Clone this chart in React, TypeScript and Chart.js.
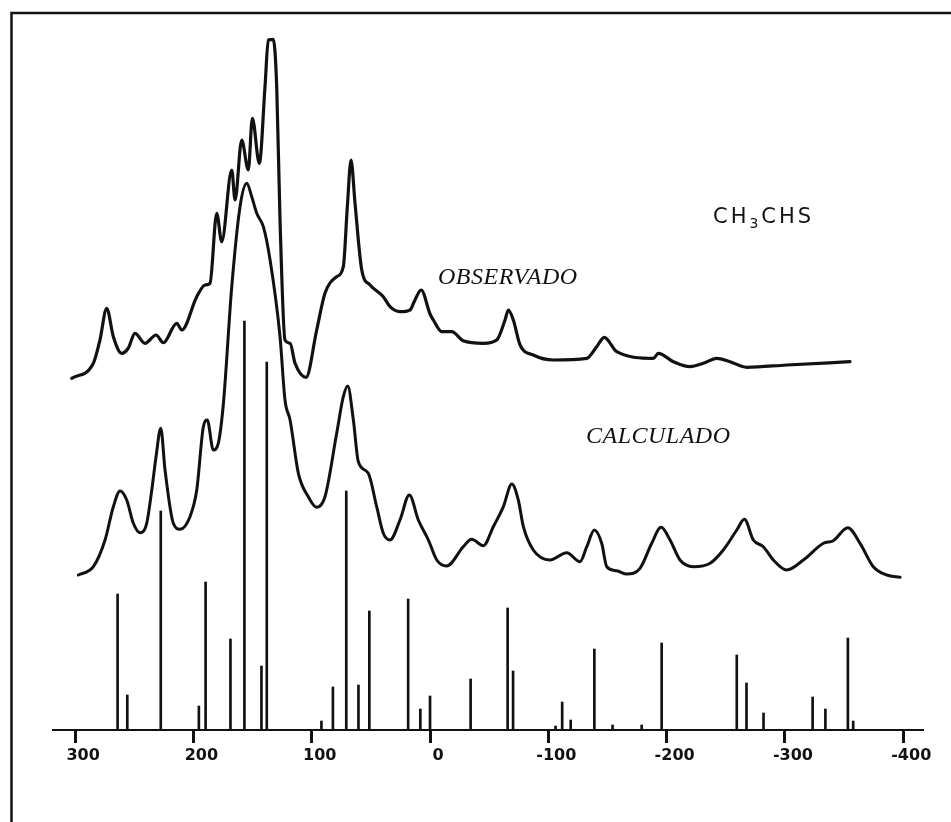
import React, { useEffect, useRef } from "react";
import { Chart, registerables } from "chart.js";

Chart.register(...registerables);

// Axis (reversed, high values on the left)
const xMin = -416.7;
const xMax = 318.7;
const yMax = 700;
const xTickValues = [300, 200, 100, 0, -100, -200, -300, -400];
const xTickLabels = ["300", "200", "100", "0", "-100", "-200", "-300", "-400"];

// OBSERVADO curve
const obsX = [302.9, 284.6, 279.0, 273.3, 267.7, 260.6, 255.0, 249.4, 240.9, 231.6, 225.4, 214.1, 209.9, 197.2, 190.2, 186.0, 180.3, 176.1, 167.6, 164.8, 159.2, 153.6, 150.2, 144.3, 139.5, 136.7, 132.5, 129.6, 126.8, 122.6, 118.3, 114.1, 104.8, 95.8, 88.8, 78.9, 73.3, 69.9, 66.8, 63.4, 57.7, 50.7, 39.5, 33.8, 25.4, 16.9, 13.5, 7.5, 0.0, -2.8, -9.9, -18.3, -28.1, -45.1, -56.4, -63.4, -66.2, -70.4, -76.1, -87.3, -104.2, -132.5, -140.9, -147.3, -157.8, -188.8, -193.0, -205.7, -219.8, -231.0, -242.3, -253.6, -267.7, -301.5, -355.0];
const obsY = [351.7, 366.7, 390, 421.7, 393.3, 376.7, 382, 396.7, 386.7, 395, 387.3, 406.7, 400, 433.3, 445, 446.7, 516.7, 488.3, 560, 530, 590, 560, 611.7, 566.7, 643.3, 690, 690.7, 643.3, 510, 390, 386.7, 366.7, 352.7, 400, 436.7, 453.3, 463.3, 523.3, 570, 526.7, 460, 445, 433.3, 423.3, 418.3, 420, 428, 440, 416, 410, 398.3, 398.3, 389.3, 386.7, 390, 410, 420, 410, 385, 375, 370, 371.7, 383.3, 392.7, 378.3, 371.7, 376.7, 368.3, 363.3, 366.7, 371.7, 368.3, 362.7, 365, 368.3];

// CALCULADO curve
const calcX = [297.3, 284.6, 274.7, 267.7, 262.0, 256.4, 250.8, 245.1, 239.5, 235.2, 231.6, 227.6, 224.0, 217.0, 211.3, 202.9, 197.2, 191.6, 188.3, 183.2, 179.0, 174.7, 167.6, 160.6, 154.9, 150.7, 146.5, 140.9, 135.2, 126.8, 122.6, 118.3, 111.3, 102.9, 95.8, 88.8, 78.9, 73.3, 69.6, 64.8, 60.6, 52.2, 45.1, 39.5, 33.8, 25.4, 17.5, 9.9, 1.4, -5.7, -14.1, -28.1, -35.2, -45.1, -53.5, -62.0, -69.1, -74.6, -78.9, -87.3, -101.4, -115.6, -126.8, -132.5, -138.9, -145.1, -149.4, -157.8, -166.3, -177.5, -187.4, -195.3, -202.9, -211.3, -222.6, -236.7, -247.9, -259.3, -265.7, -273.3, -281.7, -290.2, -301.5, -315.6, -332.5, -340.9, -353.1, -363.5, -374.7, -386.1, -397.3];
const calcY = [155, 163.3, 190, 223.3, 239, 230, 206.7, 197.3, 206.7, 240, 273.3, 301.7, 260, 206.7, 200.7, 213.3, 240, 303.3, 310, 280, 286.7, 326, 443.3, 523.3, 546.7, 533.3, 516.7, 503.3, 470, 393.3, 330, 310, 256.7, 233.3, 222.7, 233.3, 296.7, 333.3, 344, 310, 268.3, 256.7, 223.3, 196.7, 190, 210, 235, 210, 190, 170, 164, 183.3, 190.7, 184.3, 203.3, 223.3, 246, 230, 203.3, 180, 170, 177.3, 168.3, 183.3, 200, 186.7, 163.3, 159.3, 156, 161.7, 186.7, 202.7, 190, 170, 163.3, 166.7, 180, 200, 210.7, 190, 183.3, 170, 160, 170, 186.7, 189.3, 202.3, 186.7, 163.3, 155, 152.7];

// Calculated line positions (sticks)
const stickX = [264.1, 255.9, 227.6, 195.4, 189.7, 168.7, 156.9, 142.5, 138.0, 91.8, 82.1, 70.8, 60.5, 51.3, 18.5, 8.2, 0.0, -34.3, -65.6, -70.2, -106.1, -111.7, -118.9, -138.9, -154.3, -178.9, -195.8, -259.3, -267.5, -281.9, -323.4, -334.2, -353.2, -357.7];
const stickY = [136, 35, 219, 24, 148, 91, 409, 64, 368, 9, 43, 239, 45, 119, 131, 21, 34, 51, 122, 59, 4, 28, 10, 81, 5, 5, 87, 75, 47, 17, 33, 21, 92, 9];

const toPoints = (xs: number[], ys: number[]) => xs.map((x, i) => ({ x, y: ys[i] }));

const annotations = {
  id: "annotations",
  afterDraw(chart: any) {
    const ctx = chart.ctx as CanvasRenderingContext2D;
    ctx.save();
    // frame (top and left)
    ctx.strokeStyle = "#111";
    ctx.lineWidth = 2.5;
    ctx.beginPath();
    ctx.moveTo(11.5, 822);
    ctx.lineTo(11.5, 13);
    ctx.lineTo(951, 13);
    ctx.stroke();

    ctx.fillStyle = "#111";
    ctx.textBaseline = "alphabetic";
    ctx.textAlign = "left";
    ctx.font = 'italic 24px "Liberation Serif"';
    (ctx as any).letterSpacing = "0.5px";
    ctx.fillText("OBSERVADO", 438, 284);
    ctx.fillText("CALCULADO", 586, 443);

    (ctx as any).letterSpacing = "3px";
    ctx.font = '21px "DejaVu Sans"';
    let x = 713;
    const base = 223;
    ctx.fillText("CH", x, base);
    x += ctx.measureText("CH").width;
    ctx.font = '14px "DejaVu Sans"';
    ctx.fillText("3", x, base + 5);
    x += ctx.measureText("3").width;
    ctx.font = '21px "DejaVu Sans"';
    ctx.fillText("CHS", x, base);
    ctx.restore();
  },
};

export default function App() {
  const ref = useRef<HTMLCanvasElement | null>(null);

  useEffect(() => {
    if (!ref.current) return;
    const chart = new Chart(ref.current, {
      type: "line",
      data: {
        datasets: [
          {
            label: "OBSERVADO",
            data: toPoints(obsX, obsY),
            borderColor: "#111",
            borderWidth: 3.2,
            pointRadius: 0,
            fill: false,
            cubicInterpolationMode: "monotone",
            borderJoinStyle: "round",
            borderCapStyle: "round",
          } as any,
          {
            label: "CALCULADO",
            data: toPoints(calcX, calcY),
            borderColor: "#111",
            borderWidth: 3,
            pointRadius: 0,
            fill: false,
            cubicInterpolationMode: "monotone",
            borderJoinStyle: "round",
            borderCapStyle: "round",
          } as any,
          {
            type: "bar",
            label: "líneas",
            data: toPoints(stickX, stickY),
            backgroundColor: "#111",
            borderWidth: 0,
            barThickness: 2,
          } as any,
        ],
      },
      options: {
        responsive: false,
        animation: false,
        parsing: true,
        layout: { padding: { left: 53, right: 28, top: 30, bottom: 32 } },
        plugins: { legend: { display: false }, tooltip: { enabled: false } },
        scales: {
          x: {
            type: "linear",
            reverse: true,
            min: xMin,
            max: xMax,
            offset: false,
            afterFit: (scale: any) => {
              scale.height = 60;
            },
            afterBuildTicks: (scale: any) => {
              scale.ticks = xTickValues.map((v) => ({ value: v }));
            },
            grid: {
              offset: false,
              drawOnChartArea: false,
              drawTicks: true,
              tickLength: 13,
              tickWidth: 3,
              tickColor: "#111",
            },
            border: { display: true, color: "#111", width: 2 },
            ticks: {
              color: "#111",
              font: { family: "DejaVu Sans", size: 16, weight: "bold" },
              padding: 3,
              labelOffset: 8,
              maxRotation: 0,
              autoSkip: false,
              callback: (v: any) => {
                const i = xTickValues.indexOf(Number(v));
                return i >= 0 ? xTickLabels[i] : "";
              },
            },
          },
          y: {
            type: "linear",
            display: false,
            min: 0,
            max: yMax,
          },
        },
      },
      plugins: [annotations],
    });
    return () => chart.destroy();
  }, []);

  return (
    <div style={{ position: "absolute", left: 0, top: 0, width: 951, height: 822, background: "#fff" }}>
      <canvas ref={ref} width={951} height={822} style={{ display: "block" }} />
    </div>
  );
}
